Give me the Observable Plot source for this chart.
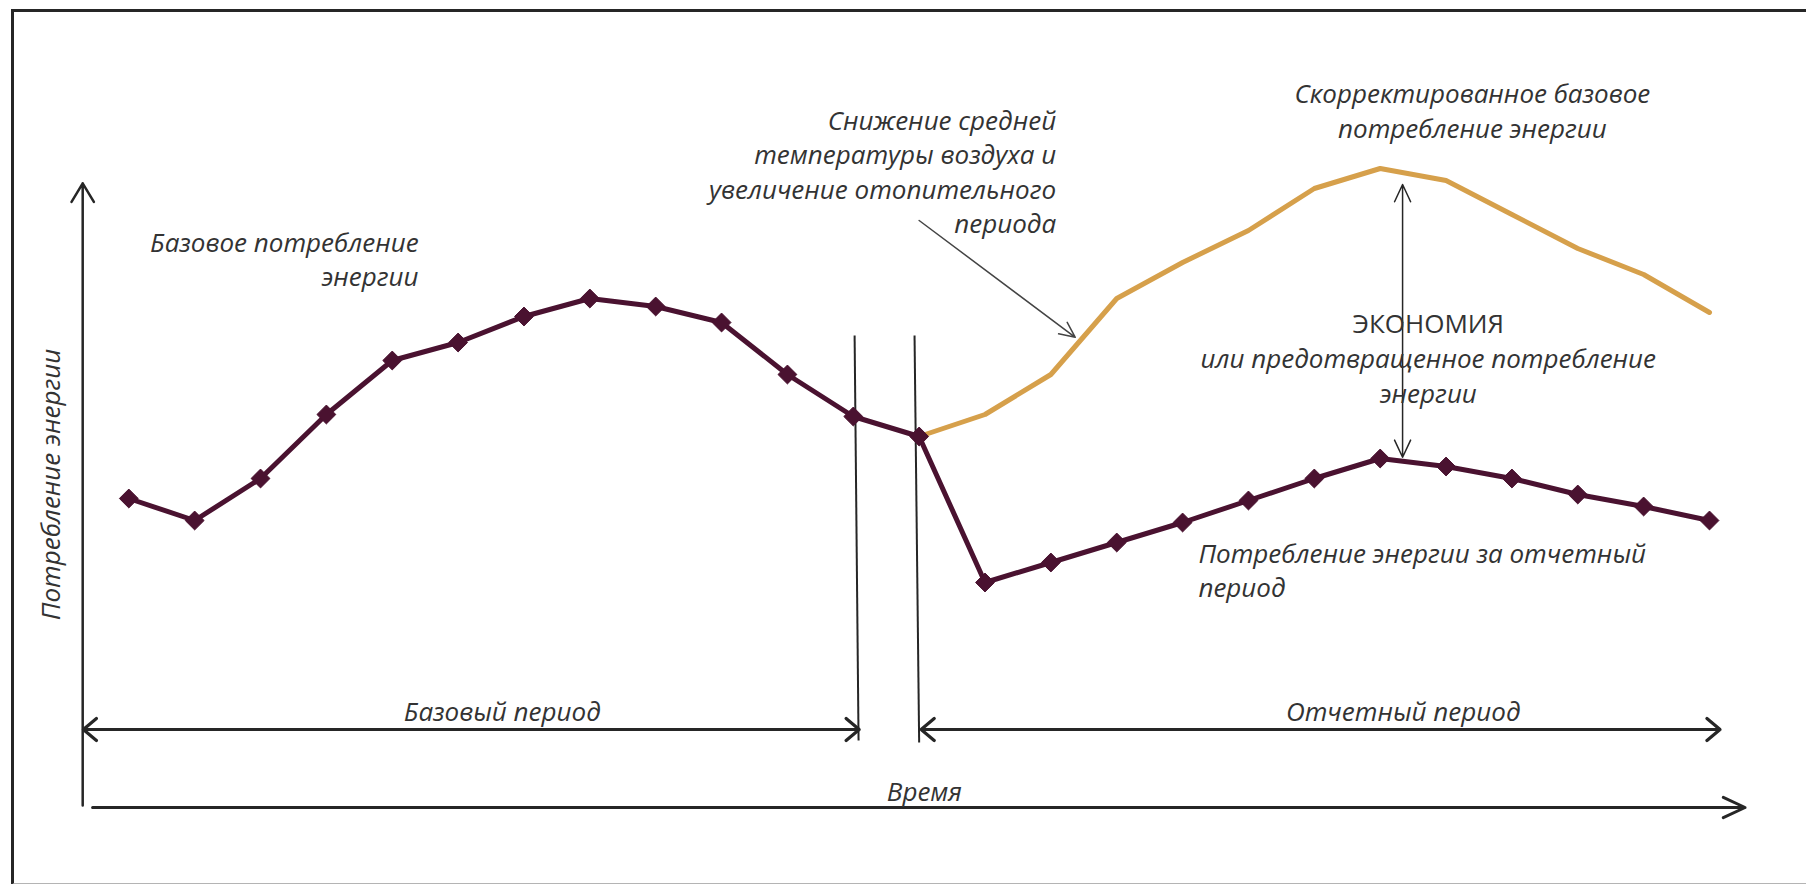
<!DOCTYPE html>
<html><head><meta charset="utf-8">
<script src="https://cdn.jsdelivr.net/npm/d3@7"></script>
<script src="https://cdn.jsdelivr.net/npm/@observablehq/plot@0.6"></script>
<style>
html,body{margin:0;padding:0;background:#fff;}
#wrap{position:relative;width:1806px;height:884px;overflow:hidden;background:#fff;}
#frame{position:absolute;left:11px;top:9px;width:1900px;height:871px;border-top:3px solid #262626;border-left:3px solid #262626;border-bottom:2px solid #b4b4b4;}
#chart{position:absolute;left:0;top:0;}
</style></head><body>
<div id="wrap"><div id="frame"></div><div id="chart"></div></div>
<script>
// time steps (months) across base and reporting periods
const periods = [0,1,2,3,4,5,6,7,8,9,10,11,12,13,14,15,16,17,18,19,20,21,22,23,24];
// measured energy consumption (base period 0..12, reporting period 12..24)
const consumption = [78,72.5,83,99,112.5,117,123.5,128,126,122,109,98.5,93.5,57,62,67,72,77.5,83,88,86,83,79,76,72.5];
// adjusted baseline for the reporting period
const adjustedPeriods = [12,13,14,15,16,17,18,19,20,21,22,23,24];
const adjustedBaseline = [93.5,99,109,128,137,145,155.5,160.5,157.5,149,140.5,134,124.5];

const labels = {
  base: "Базовое потребление\nэнергии",
  weather: "Снижение средней\nтемпературы воздуха и\nувеличение отопительного\nпериода",
  adjusted: "Скорректированное базовое\nпотребление энергии",
  savings: "ЭКОНОМИЯ",
  savings2: "или предотвращенное потребление\nэнергии",
  reporting: "Потребление энергии за отчетный\nпериод",
  basePeriod: "Базовый период",
  reportPeriod: "Отчетный период",
  time: "Время",
  yAxis: "Потребление энергии"
};

const actualData = periods.map((p, i) => ({p, v: consumption[i]}));
const adjData = adjustedPeriods.map((p, i) => ({p, v: adjustedBaseline[i]}));

const DARK = "#4a1230";
const GOLD = "#d6a04b";
const INK = "#262626";
const TXT = "#333333";
const font = {fontFamily: "Open Sans", fontStyle: "italic", fontSize: 26, fill: TXT};

function txt(s, x, y, extra) {
  return Plot.text([s], {text: d => d, x: () => x, y: () => y, lineHeight: 1.33, ...font, ...extra});
}

const chart = Plot.plot({
  width: 1806, height: 884,
  margin: 0,
  style: {background: "transparent", overflow: "visible"},
  x: {domain: [0, 24], range: [128.3, 1709], axis: null},
  y: {domain: [0, 160], range: [810, 170], axis: null},
  marks: [
    // time axis
    Plot.arrow([0], {x1: -0.55, x2: 24.54, y1: 0.75, y2: 0.75, stroke: INK, strokeWidth: 3, headLength: 12, headAngle: 50}),
    // energy axis
    Plot.arrow([0], {x1: -0.70, x2: -0.70, y1: 1.25, y2: 156.8, stroke: INK, strokeWidth: 2.5, headLength: 13, headAngle: 62}),
    // period separators
    Plot.link([0], {x1: 11.02, x2: 11.08, y1: 118.75, y2: 17.5, stroke: INK, strokeWidth: 2}),
    Plot.link([0], {x1: 11.93, x2: 12.0, y1: 118.75, y2: 17.0, stroke: INK, strokeWidth: 2}),
    // base period double arrow
    Plot.arrow([0], {x1: 5.2, x2: -0.69, y1: 20.25, y2: 20.25, stroke: INK, strokeWidth: 3.2, headLength: 8, headAngle: 80}),
    Plot.arrow([0], {x1: 5.2, x2: 11.09, y1: 20.25, y2: 20.25, stroke: INK, strokeWidth: 3.2, headLength: 8, headAngle: 80}),
    // reporting period double arrow
    Plot.arrow([0], {x1: 18, x2: 12.03, y1: 20.25, y2: 20.25, stroke: INK, strokeWidth: 3.2, headLength: 8, headAngle: 80}),
    Plot.arrow([0], {x1: 18, x2: 24.16, y1: 20.25, y2: 20.25, stroke: INK, strokeWidth: 3.2, headLength: 8, headAngle: 80}),
    // savings double arrow
    Plot.arrow([0], {x1: 19.34, x2: 19.34, y1: 122, y2: 156.5, stroke: INK, strokeWidth: 1.5, headLength: 19, headAngle: 50}),
    Plot.arrow([0], {x1: 19.34, x2: 19.34, y1: 122, y2: 88.3, stroke: INK, strokeWidth: 1.5, headLength: 19, headAngle: 50}),
    // weather annotation arrow
    Plot.arrow([0], {x1: 12.0, y1: 147.5, x2: 14.37, y2: 118.3, stroke: "#444", strokeWidth: 1.5, headLength: 17, headAngle: 50}),
    // series
    Plot.line(adjData, {x: "p", y: "v", stroke: GOLD, strokeWidth: 5, strokeLinejoin: "round"}),
    Plot.line(actualData, {x: "p", y: "v", stroke: DARK, strokeWidth: 5, strokeLinejoin: "round"}),
    Plot.dot(actualData, {x: "p", y: "v", symbol: "diamond2", r: 8.5, fill: DARK, stroke: DARK, strokeWidth: 1}),
    // labels
    txt(labels.base, 4.40, 138.1, {textAnchor: "end"}),
    txt(labels.weather, 14.08, 160.0, {textAnchor: "end"}),
    txt(labels.adjusted, 20.4, 175.2, {textAnchor: "middle"}),
    txt(labels.savings, 19.73, 122.2, {textAnchor: "middle", fontStyle: "normal"}),
    txt(labels.savings2, 19.73, 109.0, {textAnchor: "middle"}),
    txt(labels.reporting, 16.24, 60.4, {textAnchor: "start"}),
    txt(labels.basePeriod, 5.67, 25.1, {textAnchor: "middle"}),
    txt(labels.reportPeriod, 19.35, 25.1, {textAnchor: "middle"}),
    txt(labels.time, 12.08, 5.2, {textAnchor: "middle"}),
    txt(labels.yAxis, -1.22, 81.5, {textAnchor: "middle", rotate: -90})
  ]
});
document.getElementById("chart").append(chart);
</script>
</body></html>
